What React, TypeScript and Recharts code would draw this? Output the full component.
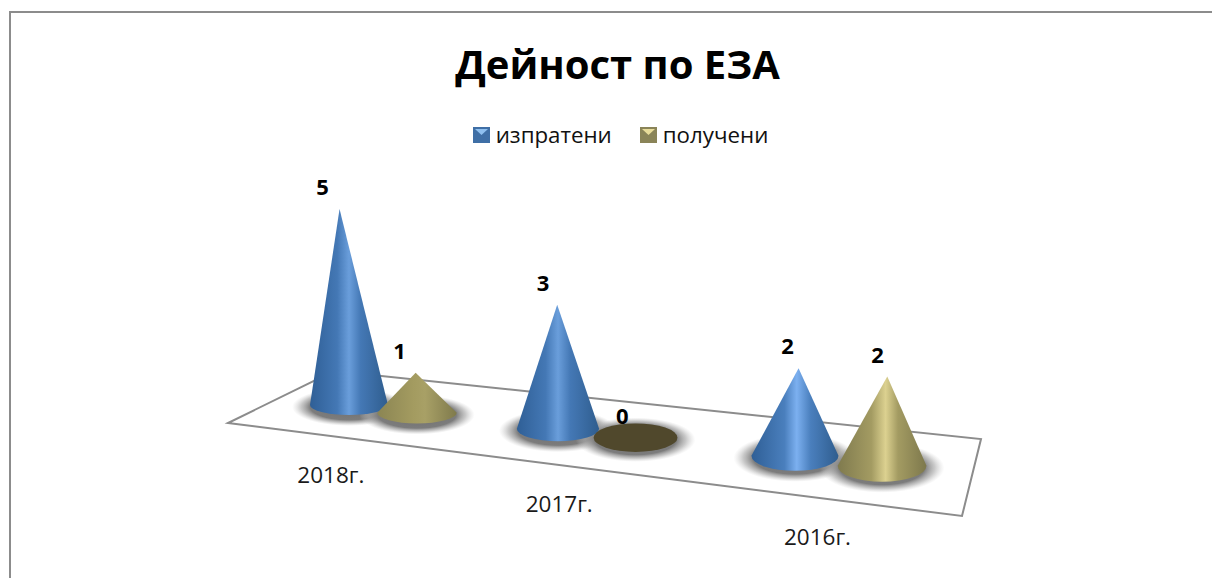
import React from 'react';
import { BarChart, Bar, XAxis, YAxis, Legend } from 'recharts';

const years = ['2018г.', '2017г.', '2016г.'];
const sent = [5, 3, 2];
const received = [1, 0, 2];

const chartData = years.map((year, i) => ({ year, sent: sent[i], received: received[i] }));

const FONT = '"Open Sans", "Noto Sans", sans-serif';

// Fake perspective: plot x -> screen x, everything grows towards the right
const projectX = (px: number) => px + 0.000368 * (px - 349) * (px - 349);
const growth = (sx: number) => 1 + (sx - 349) * 0.00026;
const baseY = (sx: number) => 405 + (sx - 349) * 0.114;
const radiusY = (sx: number) => 10 + (sx - 349) * 0.0112;

const Cone = (props: any) => {
  const { x, width, height, value, index, gradients, flat } = props;
  const cx = projectX(x + width / 2);
  const k = growth(cx);
  const rx = (width * k) / 2;
  const ry = radiusY(cx);
  const by = baseY(cx);
  const h = height * k;
  const apexX = cx + (cx - 590) * 0.0002 * h;
  const apexY = by - h;
  const labelX = cx - 17 + (cx - 349) * 0.0135 + (apexX - cx);
  return (
    <g>
      {value === 0 ? (
        <ellipse cx={cx} cy={by} rx={rx} ry={ry + 1} fill={flat} />
      ) : (
        <path
          d={`M${apexX},${apexY} L${cx - rx},${by} A${rx},${ry} 0 0 0 ${cx + rx},${by} Z`}
          fill={`url(#${gradients[index]})`}
        />
      )}
      <text x={labelX} y={apexY - 22} dy={8} textAnchor="middle" fontFamily={FONT} fontSize={22} fontWeight={700} fill="#000">
        {value}
      </text>
    </g>
  );
};

const ConeShadow = (props: any) => {
  const { x, width } = props;
  const cx = projectX(x + width / 2);
  const k = growth(cx);
  const ry = radiusY(cx);
  return <ellipse cx={cx} cy={baseY(cx) + 2} rx={(width * k) / 2 + 18} ry={ry + 9} fill="url(#coneShadow)" />;
};

const YearTick = (props: any) => {
  const { x, payload } = props;
  const sx = projectX(x);
  return (
    <text
      x={sx - 52 + (sx - 383) * 0.068}
      y={475 + (sx - 383) * 0.136}
      dy={8}
      textAnchor="middle"
      fontFamily={FONT}
      fontSize={22.5}
      fill="#1a1a1a"
    >
      {payload.value}
    </text>
  );
};

const Swatch = ({ dark, light }: { dark: string; light: string }) => (
  <svg width={17} height={16}>
    <rect width={17} height={16} fill={dark} />
    <polygon points="2,2 15,2 8.5,8" fill={light} />
  </svg>
);

const swatchLight: Record<string, string> = { sent: '#8fc0f0', received: '#e8dc9a' };

const LegendContent = ({ payload }: any) => (
  <div style={{ display: 'flex', justifyContent: 'center', gap: 28, fontFamily: FONT, fontSize: 22.3, color: '#111', lineHeight: '26px', paddingLeft: 29 }}>
    {(payload || [])
      .filter((entry: any) => entry.type !== 'none')
      .map((entry: any) => (
        <span key={entry.value} style={{ display: 'inline-flex', alignItems: 'center', gap: 6 }}>
          <Swatch dark={entry.color} light={swatchLight[entry.dataKey]} />
          {entry.value}
        </span>
      ))}
  </div>
);

export default function App() {
  return (
    <div style={{ position: 'absolute', left: 0, top: 0, width: 1212, height: 578, background: '#fff', overflow: 'hidden' }}>
      <div style={{ position: 'absolute', left: 9, top: 11, width: 1300, height: 700, border: '2px solid #8c8c8c' }} />
      <div style={{ position: 'absolute', left: 0, top: 0 }}>
        <BarChart
          width={1212}
          height={578}
          data={chartData}
          barSize={78}
          barGap={-11.6}
          margin={{ top: 174, right: 342, bottom: 152, left: 285 }}
        >
          <defs>
            <linearGradient id="coneBlue" x1="0" y1="0" x2="1" y2="0">
              <stop offset="0%" stopColor="#2f5f96" />
              <stop offset="35%" stopColor="#4478b5" />
              <stop offset="50%" stopColor="#6a9edb" />
              <stop offset="65%" stopColor="#4478b5" />
              <stop offset="100%" stopColor="#2f5d8e" />
            </linearGradient>
            <linearGradient id="coneBlueBright" x1="0" y1="0" x2="1" y2="0">
              <stop offset="0%" stopColor="#2f5f96" />
              <stop offset="38%" stopColor="#4a7fbd" />
              <stop offset="52%" stopColor="#7cb0f0" />
              <stop offset="68%" stopColor="#4a7fbd" />
              <stop offset="100%" stopColor="#2f5d8e" />
            </linearGradient>
            <linearGradient id="coneGoldDull" x1="0" y1="0" x2="1" y2="0">
              <stop offset="0%" stopColor="#8b8553" />
              <stop offset="45%" stopColor="#a39b60" />
              <stop offset="60%" stopColor="#a8a066" />
              <stop offset="100%" stopColor="#7f7a4c" />
            </linearGradient>
            <linearGradient id="coneGold" x1="0" y1="0" x2="1" y2="0">
              <stop offset="0%" stopColor="#7f7a4e" />
              <stop offset="38%" stopColor="#a39b62" />
              <stop offset="54%" stopColor="#dcd190" />
              <stop offset="68%" stopColor="#a39b62" />
              <stop offset="100%" stopColor="#7d784c" />
            </linearGradient>
            <radialGradient id="coneShadow">
              <stop offset="0%" stopColor="#6e6e6e" />
              <stop offset="68%" stopColor="#7c7c7c" />
              <stop offset="84%" stopColor="#aaaaaa" stopOpacity={0.65} />
              <stop offset="100%" stopColor="#cccccc" stopOpacity={0} />
            </radialGradient>
          </defs>
          <polygon points="228,423 962,516 981,439 334,371" fill="#fff" stroke="#8c8c8c" strokeWidth={2} />
          <text x={617.5} y={79} textAnchor="middle" fontFamily={FONT} fontSize={40} fontWeight={700} fill="#000">
            Дейност по ЕЗА
          </text>
          <XAxis xAxisId="shadow" dataKey="year" hide />
          <XAxis dataKey="year" height={30} axisLine={false} tickLine={false} interval={0} tick={<YearTick />} />
          <YAxis hide domain={[0, 5]} />
          <Legend verticalAlign="top" wrapperStyle={{ top: 122, left: 0, width: 1212 }} content={<LegendContent />} />
          <Bar xAxisId="shadow" dataKey="sent" legendType="none" isAnimationActive={false} shape={<ConeShadow />} />
          <Bar xAxisId="shadow" dataKey="received" legendType="none" isAnimationActive={false} shape={<ConeShadow />} />
          <Bar
            dataKey="sent"
            name="изпратени"
            fill="#3f6fa6"
            isAnimationActive={false}
            shape={<Cone gradients={['coneBlue', 'coneBlue', 'coneBlueBright']} flat="#27476b" />}
          />
          <Bar
            dataKey="received"
            name="получени"
            fill="#8a8458"
            isAnimationActive={false}
            shape={<Cone gradients={['coneGoldDull', 'coneGold', 'coneGold']} flat="#50482c" />}
          />
        </BarChart>
      </div>
    </div>
  );
}
